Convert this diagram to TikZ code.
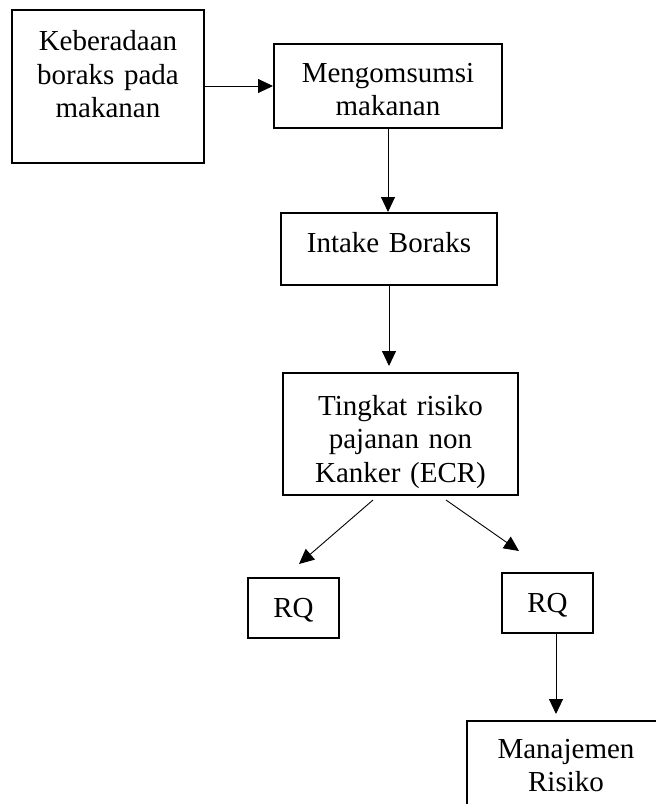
\documentclass[tikz,border=0pt]{standalone}
\usepackage{fontspec}
\setmainfont{Liberation Serif}
\usetikzlibrary{arrows.meta,calc}

\begin{document}
\begin{tikzpicture}[x=1pt, y=-1pt,
    box/.style={draw, line width=2pt, inner sep=0pt, align=center, font=\fontsize{29}{33.5}\selectfont},
    link/.style={line width=0.9pt, -{Triangle[length=15pt,width=14pt]}}]
    \useasboundingbox (0, 0) rectangle (656, 804);
    \clip (0, 0) rectangle (656, 804);

    \node at (108, 86) [box, text width=192pt, text height=41pt, text depth=112pt] (keberadaan) {Keberadaan\\boraks pada\\makanan};
    \node at (388, 86) [box, text width=228pt, text height=38pt, text depth=46pt] (mengonsumsi) {Mengomsumsi\\makanan};
    \node at (389, 249) [box, text width=216pt, text height=39pt, text depth=33pt] (intake) {Intake Boraks};
    \node at (400.5, 434) [box, text width=235pt, text height=42pt, text depth=80pt] (tingkat) {Tingkat risiko\\pajanan non\\Kanker (ECR)};
    \node at (293.5, 608) [box, text width=91pt, text height=39pt, text depth=21pt] (rqkiri) {RQ};
    \node at (547.5, 603) [box, text width=91pt, text height=39pt, text depth=21pt] (rqkanan) {RQ};
    \node at (566, 779.5) [box, text width=198pt, text height=37pt, text depth=80pt] (manajemen) {Manajemen\\Risiko};

    \draw[link] (keberadaan.east) -- (mengonsumsi.west); 
    \draw[link] (mengonsumsi.south) -- (mengonsumsi.south |- intake.north); 
    \draw[link] (intake.south) -- ($(intake.south |- tingkat.north)+(0,-6)$); 
    \draw[link] ([xshift=-27.5pt,yshift=-4pt]tingkat.south) -- ([xshift=5.5pt,yshift=13pt]rqkiri.north); 
    \draw[link] ([xshift=45.5pt,yshift=-4pt]tingkat.south) -- ([xshift=-28.5pt,yshift=21pt]rqkanan.north); 
    \draw[link] ($(rqkanan.south)+(8.5,0)$) -- ($(rqkanan.south |- manajemen.north)+(8.5,-6)$); 
\end{tikzpicture}
\end{document}
